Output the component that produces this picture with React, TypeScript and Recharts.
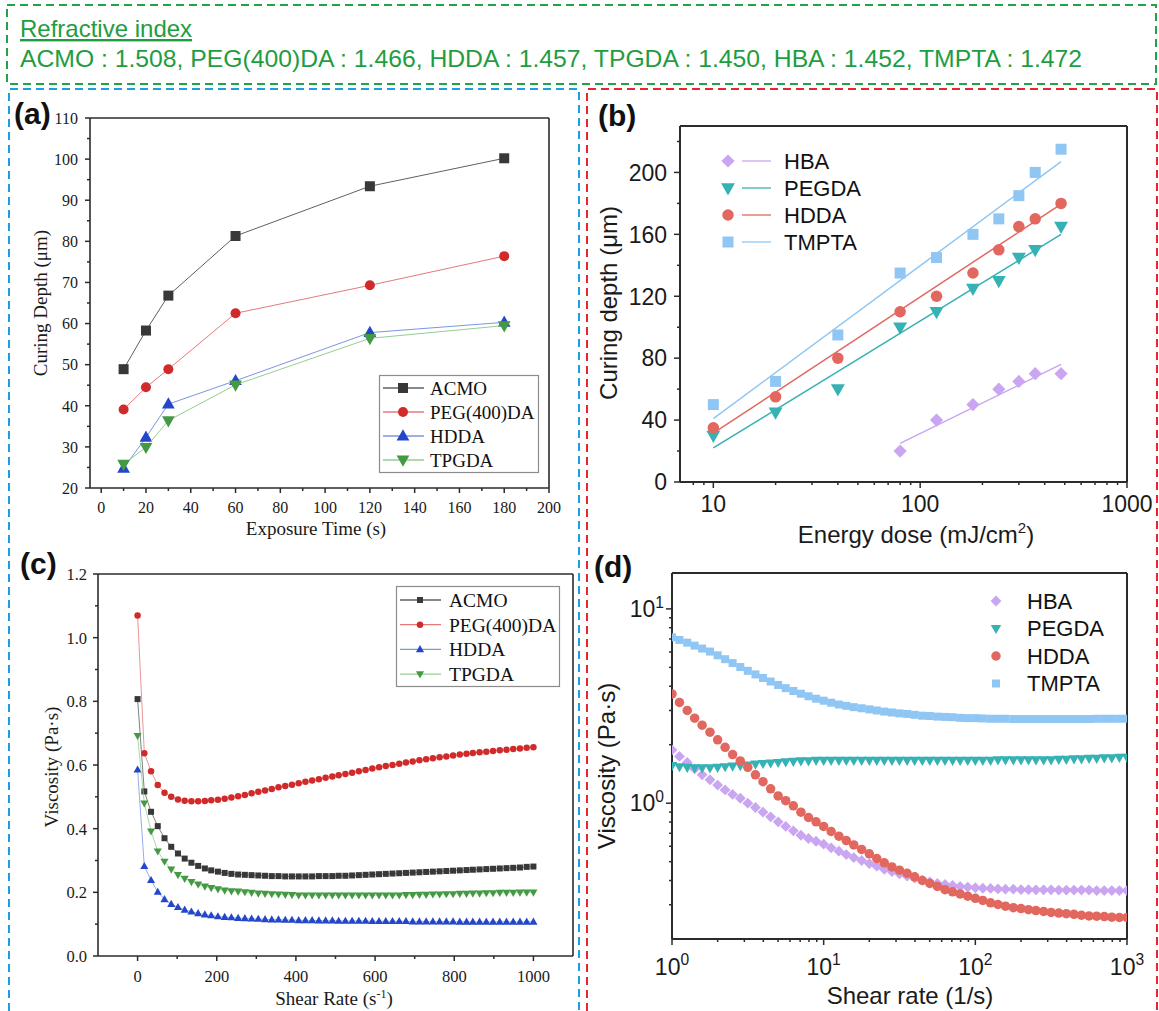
import React from "react"
import { Legend, ReferenceLine, Scatter, ScatterChart, XAxis, YAxis } from "recharts"

// ---- (a) curing depth vs exposure time
const exposureTime = [10, 20, 30, 60, 120, 180]
const depthACMO = [48.9, 58.3, 66.8, 81.3, 93.4, 100.2]
const depthPEG400DA = [39.1, 44.5, 48.9, 62.5, 69.3, 76.4]
const depthHDDA_a = [24.8, 32.3, 40.4, 46.1, 57.8, 60.3]
const depthTPGDA = [25.8, 29.9, 36.4, 45.1, 56.4, 59.5]

// ---- (b) curing depth vs energy dose (log x)
const energyDose = [10, 20, 40, 80, 120, 180, 240, 300, 360, 480]
const depthTMPTA = [50, 65, 95, 135, 145, 160, 170, 185, 200, 215]
const depthHDDA_b = [35, 55, 80, 110, 120, 135, 150, 165, 170, 180]
const depthPEGDA = [30, 45, 60, 100, 110, 125, 130, 145, 150, 165]
const hbaDose = [80, 120, 180, 240, 300, 360, 480]
const depthHBA = [20, 40, 50, 60, 65, 70, 70]
// fitted lines, end points
const fitDose = [10, 480]
const fitTMPTA = [41, 207]
const fitHDDA = [31.5, 179.5]
const fitPEGDA = [22, 160]
const fitHbaDose = [80, 480]
const fitHBA = [25, 76]

// ---- (c) viscosity vs shear rate (linear)
const shearC = [
  0, 17, 34, 51, 68, 85, 102, 119, 136, 153,
  170, 186, 203, 220, 237, 254, 271, 288, 305, 322,
  339, 356, 373, 390, 407, 424, 441, 458, 475, 492,
  508, 525, 542, 559, 576, 593, 610, 627, 644, 661,
  678, 695, 712, 729, 746, 763, 780, 797, 814, 831,
  847, 864, 881, 898, 915, 932, 949, 966, 983, 1000,
]
const viscACMO = [
  0.807, 0.517, 0.453, 0.408, 0.37, 0.343, 0.322, 0.306, 0.293, 0.283,
  0.275, 0.269, 0.265, 0.261, 0.258, 0.256, 0.255, 0.254, 0.253, 0.252,
  0.251, 0.251, 0.25, 0.25, 0.25, 0.25, 0.25, 0.251, 0.251, 0.251,
  0.252, 0.252, 0.253, 0.254, 0.255, 0.256, 0.257, 0.258, 0.259, 0.26,
  0.261, 0.262, 0.263, 0.264, 0.265, 0.266, 0.267, 0.268, 0.269, 0.27,
  0.271, 0.272, 0.273, 0.274, 0.275, 0.276, 0.277, 0.278, 0.28, 0.281,
]
const viscPEG400DA = [
  1.07, 0.637, 0.58, 0.537, 0.513, 0.5, 0.492, 0.488, 0.486, 0.486,
  0.487, 0.489, 0.491, 0.494, 0.498, 0.502, 0.506, 0.511, 0.516, 0.52,
  0.525, 0.53, 0.534, 0.538, 0.543, 0.547, 0.551, 0.555, 0.56, 0.564,
  0.568, 0.572, 0.576, 0.58, 0.584, 0.589, 0.593, 0.597, 0.6, 0.604,
  0.608, 0.611, 0.615, 0.618, 0.621, 0.624, 0.627, 0.63, 0.633, 0.635,
  0.638, 0.64, 0.642, 0.644, 0.646, 0.648, 0.65, 0.652, 0.654, 0.656,
]
const viscHDDA_c = [
  0.585, 0.282, 0.238, 0.201, 0.178, 0.163, 0.153, 0.145, 0.139, 0.134,
  0.13, 0.127, 0.124, 0.122, 0.121, 0.119, 0.118, 0.117, 0.116, 0.115,
  0.114, 0.114, 0.113, 0.113, 0.112, 0.112, 0.112, 0.111, 0.111, 0.111,
  0.11, 0.11, 0.11, 0.11, 0.11, 0.109, 0.109, 0.109, 0.109, 0.109,
  0.109, 0.108, 0.108, 0.108, 0.108, 0.108, 0.108, 0.108, 0.107, 0.107,
  0.107, 0.107, 0.107, 0.107, 0.107, 0.107, 0.107, 0.107, 0.107, 0.107,
]
const viscTPGDA = [
  0.692, 0.48, 0.392, 0.329, 0.297, 0.272, 0.255, 0.243, 0.233, 0.225,
  0.219, 0.214, 0.21, 0.206, 0.204, 0.203, 0.201, 0.199, 0.197, 0.196,
  0.195, 0.194, 0.193, 0.192, 0.191, 0.191, 0.191, 0.191, 0.191, 0.191,
  0.191, 0.191, 0.191, 0.191, 0.191, 0.191, 0.191, 0.191, 0.191, 0.191,
  0.192, 0.192, 0.193, 0.193, 0.194, 0.194, 0.195, 0.195, 0.196, 0.196,
  0.197, 0.197, 0.198, 0.198, 0.199, 0.199, 0.199, 0.2, 0.2, 0.2,
]

// ---- (d) viscosity vs shear rate (log-log)
const shearD = [
  1, 1.12, 1.26, 1.41, 1.58, 1.78, 2, 2.24, 2.51, 2.82,
  3.16, 3.55, 3.98, 4.47, 5.01, 5.62, 6.31, 7.08, 7.94, 8.91,
  10, 11.2, 12.6, 14.1, 15.8, 17.8, 20, 22.4, 25.1, 28.2,
  31.6, 35.5, 39.8, 44.7, 50.1, 56.2, 63.1, 70.8, 79.4, 89.1,
  100, 112, 126, 141, 158, 178, 200, 224, 251, 282,
  316, 355, 398, 447, 501, 562, 631, 708, 794, 891,
  1000,
]
const viscTMPTA = [
  7.14, 6.92, 6.7, 6.47, 6.25, 6.03, 5.77, 5.51, 5.26, 5.02,
  4.8, 4.6, 4.41, 4.23, 4.06, 3.91, 3.78, 3.66, 3.55, 3.45,
  3.37, 3.29, 3.22, 3.17, 3.12, 3.08, 3.04, 3.0, 2.96, 2.93,
  2.9, 2.88, 2.85, 2.82, 2.81, 2.79, 2.78, 2.77, 2.75, 2.74,
  2.74, 2.73, 2.72, 2.72, 2.72, 2.71, 2.71, 2.71, 2.71, 2.71,
  2.71, 2.71, 2.71, 2.71, 2.71, 2.71, 2.72, 2.72, 2.72, 2.72,
  2.72,
]
const viscPEGDA = [
  1.56, 1.54, 1.53, 1.52, 1.52, 1.52, 1.53, 1.54, 1.55, 1.56,
  1.57, 1.59, 1.6, 1.61, 1.62, 1.63, 1.64, 1.65, 1.65, 1.66,
  1.66, 1.66, 1.66, 1.66, 1.66, 1.66, 1.66, 1.66, 1.66, 1.66,
  1.66, 1.66, 1.66, 1.66, 1.66, 1.66, 1.66, 1.66, 1.66, 1.66,
  1.66, 1.66, 1.66, 1.67, 1.67, 1.67, 1.67, 1.67, 1.67, 1.67,
  1.67, 1.68, 1.68, 1.69, 1.69, 1.7, 1.7, 1.71, 1.71, 1.72,
  1.72,
]
const viscHDDA_d = [
  3.65, 3.3, 3.0, 2.74, 2.52, 2.32, 2.12, 1.94, 1.78, 1.65,
  1.53, 1.4, 1.29, 1.185, 1.09, 1.03, 0.969, 0.899, 0.844, 0.802,
  0.759, 0.715, 0.676, 0.642, 0.61, 0.578, 0.549, 0.519, 0.493, 0.47,
  0.452, 0.436, 0.418, 0.4, 0.386, 0.373, 0.359, 0.35, 0.341, 0.332,
  0.324, 0.316, 0.307, 0.301, 0.295, 0.29, 0.287, 0.283, 0.28, 0.277,
  0.274, 0.272, 0.27, 0.268, 0.265, 0.263, 0.262, 0.261, 0.259, 0.258,
  0.258,
]
const viscHBA = [
  1.88, 1.74, 1.62, 1.5, 1.4, 1.32, 1.24, 1.17, 1.11, 1.06,
  1.0, 0.95, 0.899, 0.851, 0.802, 0.759, 0.721, 0.684, 0.658, 0.637,
  0.615, 0.589, 0.566, 0.544, 0.525, 0.507, 0.489, 0.474, 0.457, 0.445,
  0.433, 0.421, 0.411, 0.402, 0.394, 0.386, 0.382, 0.377, 0.373, 0.37,
  0.367, 0.365, 0.364, 0.362, 0.361, 0.361, 0.359, 0.359, 0.358, 0.358,
  0.358, 0.357, 0.357, 0.357, 0.357, 0.357, 0.355, 0.355, 0.355, 0.355,
  0.355,
]

// ---- tick values
const ticksA_x = [0, 10, 20, 30, 40, 50, 60, 70, 80, 90, 100, 110, 120, 130, 140, 150, 160, 170, 180, 190, 200]
const majorsA_x = [0, 20, 40, 60, 80, 100, 120, 140, 160, 180, 200]
const ticksA_y = [20, 25, 30, 35, 40, 45, 50, 55, 60, 65, 70, 75, 80, 85, 90, 95, 100, 105, 110]
const majorsA_y = [20, 30, 40, 50, 60, 70, 80, 90, 100, 110]
const ticksB_x = [8, 9, 10, 20, 30, 40, 50, 60, 70, 80, 90, 100, 200, 300, 400, 500, 600, 700, 800, 900, 1000]
const majorsB_x = [10, 100, 1000]
const ticksB_y = [0, 20, 40, 60, 80, 100, 120, 140, 160, 180, 200, 220]
const majorsB_y = [0, 40, 80, 120, 160, 200]
const ticksC_x = [0, 100, 200, 300, 400, 500, 600, 700, 800, 900, 1000]
const majorsC_x = [0, 200, 400, 600, 800, 1000]
const ticksC_y = [0, 0.1, 0.2, 0.3, 0.4, 0.5, 0.6, 0.7, 0.8, 0.9, 1.0, 1.1, 1.2]
const majorsC_y = [0, 0.2, 0.4, 0.6, 0.8, 1.0, 1.2]
const ticksD_x = [1, 2, 3, 4, 5, 6, 7, 8, 9, 10, 20, 30, 40, 50, 60, 70, 80, 90, 100, 200, 300, 400, 500, 600, 700, 800, 900, 1000]
const majorsD_x = [1, 10, 100, 1000]
const ticksD_y = [0.3, 0.4, 0.5, 0.6, 0.7, 0.8, 0.9, 1, 2, 3, 4, 5, 6, 7, 8, 9, 10]
const majorsD_y = [1, 10]

const AX = "#2b2b2b"
const SERIF = "'Liberation Serif', 'Times New Roman', serif"
const SANS = "'Liberation Sans', Arial, sans-serif"

type Shape = "square" | "circle" | "up" | "down" | "diamond" | "none"

function drawMarker(shape: Shape, cx: number, cy: number, s: number, fill: string) {
  const h = s / 2
  switch (shape) {
    case "square":
      return <rect x={cx - h} y={cy - h} width={s} height={s} fill={fill} />
    case "circle":
      return <circle cx={cx} cy={cy} r={h} fill={fill} />
    case "up":
      return <polygon points={`${cx},${cy - 0.62 * s} ${cx + 0.58 * s},${cy + 0.4 * s} ${cx - 0.58 * s},${cy + 0.4 * s}`} fill={fill} />
    case "down":
      return <polygon points={`${cx},${cy + 0.62 * s} ${cx + 0.58 * s},${cy - 0.4 * s} ${cx - 0.58 * s},${cy - 0.4 * s}`} fill={fill} />
    case "diamond":
      return <polygon points={`${cx},${cy - 0.6 * s} ${cx + 0.6 * s},${cy} ${cx},${cy + 0.6 * s} ${cx - 0.6 * s},${cy}`} fill={fill} />
    default:
      return <g />
  }
}

const pts = (xs: number[], ys: number[]) => xs.map((x, i) => ({ x, y: ys[i] }))

type TickStyle = {
  majors: number[]
  major: number
  minor: number
  offset: number
  font: string
  size: number
  fmt: (v: number) => React.ReactNode
}

function bottomTick(t: TickStyle) {
  return (p: any) => {
    const v = p.payload.value
    const big = t.majors.includes(v)
    return (
      <g>
        <line x1={p.x} x2={p.x} y1={p.y} y2={p.y + (big ? t.major : t.minor)} stroke={AX} strokeWidth={1.5} />
        {big && (
          <text x={p.x} y={p.y + t.offset} textAnchor="middle" fontFamily={t.font} fontSize={t.size} fill="#1a1a1a">
            {t.fmt(v)}
          </text>
        )}
      </g>
    )
  }
}

function leftTick(t: TickStyle) {
  return (p: any) => {
    const v = p.payload.value
    const big = t.majors.includes(v)
    return (
      <g>
        <line x1={p.x - (big ? t.major : t.minor)} x2={p.x} y1={p.y} y2={p.y} stroke={AX} strokeWidth={1.5} />
        {big && (
          <text x={p.x - t.offset} y={p.y} dy="0.36em" textAnchor="end" fontFamily={t.font} fontSize={t.size} fill="#1a1a1a">
            {t.fmt(v)}
          </text>
        )}
      </g>
    )
  }
}

const plain = (v: number) => String(v)
const oneDec = (v: number) => v.toFixed(1)
const pow10 = (size: number) => (v: number) => (
  <>
    10
    <tspan dy={-size * 0.42} fontSize={size * 0.68}>
      {Math.round(Math.log10(v))}
    </tspan>
  </>
)

type Series = {
  name: string
  points: { x: number; y: number }[]
  shape: Shape
  size: number
  fill: string
  line?: string
  lineWidth?: number
}

type LegendItem = { name: string; shape: Shape; size: number; fill: string; line?: string }

type LegendCfg = {
  left: number
  top: number
  width: number
  height: number
  first: number
  rowH: number
  markerX: number
  lineX?: [number, number]
  textX: number
  font: string
  size: number
  border: boolean
  items: LegendItem[]
}

function LegendBox({ cfg }: { cfg: LegendCfg }) {
  return (
    <svg width={cfg.width} height={cfg.height} style={{ display: "block", overflow: "visible" }}>
      {cfg.border && (
        <rect x={0.5} y={0.5} width={cfg.width - 1} height={cfg.height - 1} fill="none" stroke="#8c8c8c" strokeWidth={1.2} />
      )}
      {cfg.items.map((it, i) => {
        const cy = cfg.first + i * cfg.rowH
        return (
          <g key={it.name}>
            {it.line && cfg.lineX && (
              <line x1={cfg.lineX[0]} x2={cfg.lineX[1]} y1={cy} y2={cy} stroke={it.line} strokeWidth={1.3} />
            )}
            {drawMarker(it.shape, cfg.markerX, cy, it.size, it.fill)}
            <text x={cfg.textX} y={cy} dy="0.36em" fontFamily={cfg.font} fontSize={cfg.size} fill="#111">
              {it.name}
            </text>
          </g>
        )
      })}
    </svg>
  )
}

type AxisCfg = { domain: [number, number]; log?: boolean; ticks: number[]; style: TickStyle }

type PanelProps = {
  box: { left: number; top: number; width: number; height: number }
  margin: { top: number; right: number; bottom: number; left: number }
  yWidth: number
  xHeight: number
  x: AxisCfg
  y: AxisCfg
  frame: number
  series: Series[]
  legend: LegendCfg
}

function Panel(p: PanelProps) {
  const axisLine = { stroke: AX, strokeWidth: p.frame }
  return (
    <div style={{ position: "absolute", left: p.box.left, top: p.box.top }}>
      <ScatterChart width={p.box.width} height={p.box.height} margin={p.margin} style={{ overflow: "visible" }}>
        <XAxis
          type="number"
          dataKey="x"
          scale={p.x.log ? "log" : "linear"}
          domain={p.x.domain}
          allowDataOverflow
          ticks={p.x.ticks}
          interval={0}
          height={p.xHeight}
          tickLine={false}
          tickSize={0}
          tickMargin={0}
          axisLine={axisLine}
          tick={bottomTick(p.x.style)}
        />
        <YAxis
          type="number"
          dataKey="y"
          scale={p.y.log ? "log" : "linear"}
          domain={p.y.domain}
          allowDataOverflow
          ticks={p.y.ticks}
          interval={0}
          width={p.yWidth}
          tickLine={false}
          tickSize={0}
          tickMargin={0}
          axisLine={axisLine}
          tick={leftTick(p.y.style)}
        />
        <ReferenceLine y={p.y.domain[1]} stroke={AX} strokeWidth={p.frame} />
        <ReferenceLine x={p.x.domain[1]} stroke={AX} strokeWidth={p.frame} />
        {p.series.map((s) => (
          <Scatter
            key={s.name}
            name={s.name}
            data={s.points}
            isAnimationActive={false}
            fill={s.fill}
            line={s.line ? { stroke: s.line, strokeWidth: s.lineWidth ?? 1 } : false}
            shape={(q: any) => drawMarker(s.shape, q.cx, q.cy, s.size, s.fill)}
          />
        ))}
        <Legend
          layout="vertical"
          align="center"
          verticalAlign="middle"
          wrapperStyle={{ left: p.legend.left, top: p.legend.top, width: p.legend.width, height: p.legend.height }}
          content={() => <LegendBox cfg={p.legend} />}
        />
      </ScatterChart>
    </div>
  )
}

// colours
const cA = { acmo: "#383838", peg: "#d12a2a", hdda: "#2446c9", tpgda: "#449a44" }
const lA = { acmo: "#606060", peg: "#e57a7a", hdda: "#7c95e4", tpgda: "#95cd93" }
const cB = { hba: "#c9a5f2", pegda: "#36b1b4", hdda: "#e2675f", tmpta: "#8fc6f4" }

const serifTick = (majors: number[], fmt: (v: number) => React.ReactNode, offset: number, size: number): TickStyle => ({
  majors, major: 5, minor: 3, offset, font: SERIF, size, fmt,
})
const sansTick = (majors: number[], fmt: (v: number) => React.ReactNode, offset: number, size: number): TickStyle => ({
  majors, major: 6, minor: 3, offset, font: SANS, size, fmt,
})

const legendA: LegendItem[] = [
  { name: "ACMO", shape: "square", size: 10, fill: cA.acmo, line: lA.acmo },
  { name: "PEG(400)DA", shape: "circle", size: 10, fill: cA.peg, line: lA.peg },
  { name: "HDDA", shape: "up", size: 11, fill: cA.hdda, line: lA.hdda },
  { name: "TPGDA", shape: "down", size: 11, fill: cA.tpgda, line: lA.tpgda },
]
const legendC: LegendItem[] = [
  { name: "ACMO", shape: "square", size: 6, fill: cA.acmo, line: lA.acmo },
  { name: "PEG(400)DA", shape: "circle", size: 6.5, fill: cA.peg, line: lA.peg },
  { name: "HDDA", shape: "up", size: 7, fill: cA.hdda, line: lA.hdda },
  { name: "TPGDA", shape: "down", size: 7, fill: cA.tpgda, line: lA.tpgda },
]
const legendB: LegendItem[] = [
  { name: "HBA", shape: "diamond", size: 11, fill: cB.hba, line: cB.hba },
  { name: "PEGDA", shape: "down", size: 12, fill: cB.pegda, line: cB.pegda },
  { name: "HDDA", shape: "circle", size: 11.5, fill: cB.hdda, line: cB.hdda },
  { name: "TMPTA", shape: "square", size: 11, fill: cB.tmpta, line: cB.tmpta },
]
const legendD: LegendItem[] = [
  { name: "HBA", shape: "diamond", size: 9, fill: cB.hba },
  { name: "PEGDA", shape: "down", size: 9, fill: cB.pegda },
  { name: "HDDA", shape: "circle", size: 9.5, fill: cB.hdda },
  { name: "TMPTA", shape: "square", size: 8, fill: cB.tmpta },
]

function Overlay() {
  const green = "#1f9d41"
  const dash = "8 5"
  const rot = (cx: number, cy: number) => `translate(${cx},${cy}) rotate(-90)`
  return (
    <svg width={1159} height={1011} style={{ position: "absolute", left: 0, top: 0 }}>
      <rect x={7} y={5} width={1149} height={79} fill="none" stroke="#21a34a" strokeWidth={2} strokeDasharray={dash} />
      <path d="M9,1011 V89 H579 V1011" fill="none" stroke="#1f9ce6" strokeWidth={2} strokeDasharray={dash} />
      <path d="M587,1011 V89 H1157 V1011" fill="none" stroke="#e8262f" strokeWidth={2} strokeDasharray={dash} />
      <text x={20} y={37} fontFamily={SANS} fontSize={24} fill={green} textDecoration="underline">
        Refractive index
      </text>
      <text x={20} y={67} fontFamily={SANS} fontSize={24} fill={green} textLength={1062} lengthAdjust="spacingAndGlyphs">
        ACMO : 1.508, PEG(400)DA : 1.466, HDDA : 1.457, TPGDA : 1.450, HBA : 1.452, TMPTA : 1.472
      </text>

      <g fontFamily={SANS} fontSize={30} fontWeight="bold" fill="#111">
        <text x={14} y={124}>(a)</text>
        <text x={598} y={126}>(b)</text>
        <text x={20} y={574}>(c)</text>
        <text x={594} y={577}>(d)</text>
      </g>

      <g fontFamily={SERIF} fontSize={19} fill="#1a1a1a" textAnchor="middle">
        <text transform={rot(40, 303)} dy="0.36em">Curing Depth (μm)</text>
        <text x={316} y={535}>Exposure Time (s)</text>
        <text transform={rot(51, 767)} dy="0.36em">Viscosity (Pa·s)</text>
        <text x={334} y={1005}>
          Shear Rate (s<tspan dy={-7} fontSize={12}>-1</tspan>
          <tspan dy={7}>)</tspan>
        </text>
      </g>
      <g fontFamily={SANS} fontSize={24} fill="#1a1a1a" textAnchor="middle">
        <text transform={rot(608, 303)} dy="0.36em">Curing depth (μm)</text>
        <text x={916} y={543}>
          Energy dose (mJ/cm<tspan dy={-10} fontSize={15}>2</tspan>
          <tspan dy={10}>)</tspan>
        </text>
        <text transform={rot(606, 766)} dy="0.36em">Viscosity (Pa·s)</text>
        <text x={910} y={1004}>Shear rate (1/s)</text>
      </g>
    </svg>
  )
}

export default function App() {
  return (
    <div style={{ position: "absolute", left: 0, top: 0, width: 1159, height: 1011, background: "#fff", overflow: "hidden" }}>
      <Overlay />

      <Panel
        box={{ left: 10, top: 90, width: 560, height: 450 }}
        margin={{ top: 28, right: 21, bottom: 22, left: 20 }}
        yWidth={60}
        xHeight={30}
        frame={1.6}
        x={{ domain: [-5, 200], ticks: ticksA_x, style: serifTick(majorsA_x, plain, 25, 16) }}
        y={{ domain: [20, 110], ticks: ticksA_y, style: serifTick(majorsA_y, plain, 12, 16) }}
        series={[
          { name: "ACMO", points: pts(exposureTime, depthACMO), shape: "square", size: 10, fill: cA.acmo, line: lA.acmo },
          { name: "PEG(400)DA", points: pts(exposureTime, depthPEG400DA), shape: "circle", size: 10, fill: cA.peg, line: lA.peg },
          { name: "HDDA", points: pts(exposureTime, depthHDDA_a), shape: "up", size: 11, fill: cA.hdda, line: lA.hdda },
          { name: "TPGDA", points: pts(exposureTime, depthTPGDA), shape: "down", size: 11, fill: cA.tpgda, line: lA.tpgda },
        ]}
        legend={{
          left: 369, top: 285, width: 160, height: 98, first: 13, rowH: 24, markerX: 24, lineX: [4, 45],
          textX: 51, font: SERIF, size: 19, border: true, items: legendA,
        }}
      />

      <Panel
        box={{ left: 590, top: 92, width: 569, height: 440 }}
        margin={{ top: 34, right: 32, bottom: 10, left: 20 }}
        yWidth={70}
        xHeight={40}
        frame={2}
        x={{ domain: [6.9, 1000], log: true, ticks: ticksB_x, style: sansTick(majorsB_x, plain, 30, 23) }}
        y={{ domain: [0, 230], ticks: ticksB_y, style: sansTick(majorsB_y, plain, 13, 23) }}
        series={[
          { name: "HBA fit", points: pts(fitHbaDose, fitHBA), shape: "none", size: 0, fill: cB.hba, line: cB.hba, lineWidth: 1.5 },
          { name: "PEGDA fit", points: pts(fitDose, fitPEGDA), shape: "none", size: 0, fill: cB.pegda, line: cB.pegda, lineWidth: 1.5 },
          { name: "HDDA fit", points: pts(fitDose, fitHDDA), shape: "none", size: 0, fill: cB.hdda, line: cB.hdda, lineWidth: 1.5 },
          { name: "TMPTA fit", points: pts(fitDose, fitTMPTA), shape: "none", size: 0, fill: cB.tmpta, line: cB.tmpta, lineWidth: 1.5 },
          { name: "HBA", points: pts(hbaDose, depthHBA), shape: "diamond", size: 11, fill: cB.hba },
          { name: "PEGDA", points: pts(energyDose, depthPEGDA), shape: "down", size: 12, fill: cB.pegda },
          { name: "HDDA", points: pts(energyDose, depthHDDA_b), shape: "circle", size: 11.5, fill: cB.hdda },
          { name: "TMPTA", points: pts(energyDose, depthTMPTA), shape: "square", size: 11, fill: cB.tmpta },
        ]}
        legend={{
          left: 120, top: 50, width: 200, height: 120, first: 19, rowH: 27, markerX: 18, lineX: [32, 61],
          textX: 74, font: SANS, size: 22, border: false, items: legendB,
        }}
      />

      <Panel
        box={{ left: 12, top: 545, width: 570, height: 460 }}
        margin={{ top: 29, right: 9, bottom: 19, left: 26 }}
        yWidth={60}
        xHeight={30}
        frame={1.6}
        x={{ domain: [-100, 1100], ticks: ticksC_x, style: serifTick(majorsC_x, plain, 26, 16.5) }}
        y={{ domain: [0, 1.2], ticks: ticksC_y, style: serifTick(majorsC_y, oneDec, 11, 16.5) }}
        series={[
          { name: "ACMO", points: pts(shearC, viscACMO), shape: "square", size: 6, fill: cA.acmo, line: lA.acmo, lineWidth: 0.8 },
          { name: "PEG(400)DA", points: pts(shearC, viscPEG400DA), shape: "circle", size: 6.5, fill: cA.peg, line: lA.peg, lineWidth: 0.8 },
          { name: "HDDA", points: pts(shearC, viscHDDA_c), shape: "up", size: 7, fill: cA.hdda, line: lA.hdda, lineWidth: 0.8 },
          { name: "TPGDA", points: pts(shearC, viscTPGDA), shape: "down", size: 7, fill: cA.tpgda, line: lA.tpgda, lineWidth: 0.8 },
        ]}
        legend={{
          left: 384, top: 41, width: 164, height: 101, first: 14, rowH: 24.7, markerX: 24, lineX: [4, 45],
          textX: 53, font: SERIF, size: 19.5, border: true, items: legendC,
        }}
      />

      <Panel
        box={{ left: 590, top: 545, width: 569, height: 440 }}
        margin={{ top: 28, right: 32, bottom: 6, left: 22 }}
        yWidth={60}
        xHeight={40}
        frame={2}
        x={{ domain: [1, 1000], log: true, ticks: ticksD_x, style: sansTick(majorsD_x, pow10(23), 36, 23) }}
        y={{ domain: [0.2, 15.3], log: true, ticks: ticksD_y, style: sansTick(majorsD_y, pow10(23), 8, 23) }}
        series={[
          { name: "HBA", points: pts(shearD, viscHBA), shape: "diamond", size: 9, fill: cB.hba },
          { name: "PEGDA", points: pts(shearD, viscPEGDA), shape: "down", size: 9, fill: cB.pegda },
          { name: "HDDA", points: pts(shearD, viscHDDA_d), shape: "circle", size: 9.5, fill: cB.hdda },
          { name: "TMPTA", points: pts(shearD, viscTMPTA), shape: "square", size: 8, fill: cB.tmpta },
        ]}
        legend={{
          left: 390, top: 40, width: 150, height: 120, first: 16, rowH: 27.5, markerX: 16,
          textX: 47, font: SANS, size: 22, border: false, items: legendD,
        }}
      />
    </div>
  )
}
